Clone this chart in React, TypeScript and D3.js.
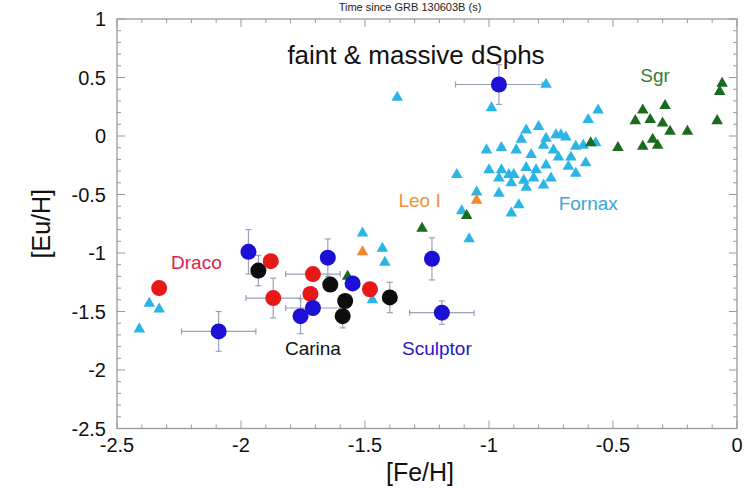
import React from 'react';
import * as d3 from 'd3';

// chart data
const xTicks = [-2.5, -2, -1.5, -1, -0.5, 0];
const yTicks = [1, 0.5, 0, -0.5, -1, -1.5, -2, -2.5];

// Fornax (light blue triangles)
const fornax: [number, number][] = [
  [-2.37, -1.43], [-2.33, -1.48], [-2.41, -1.65], [-1.51, -0.83], [-1.43, -0.96],
  [-1.42, -1.08], [-1.47, -1.4], [-1.11, -0.64], [-1.08, -0.88], [-1.37, 0.33],
  [-0.77, 0.44], [-0.99, 0.24], [-0.56, 0.22], [-0.6, 0.14], [-0.85, 0.05],
  [-0.8, 0.08], [-0.87, -0.03], [-0.77, -0.02], [-0.73, 0.01], [-0.71, 0.01],
  [-0.69, -0.01], [-1.01, -0.12], [-0.95, -0.1], [-0.89, -0.12], [-0.83, -0.16],
  [-0.78, -0.08], [-0.74, -0.12], [-0.72, -0.18], [-0.67, -0.18], [-0.65, -0.09],
  [-0.62, -0.08], [-0.57, -0.06], [-1.0, -0.29], [-0.95, -0.29], [-0.92, -0.33],
  [-0.9, -0.33], [-0.85, -0.27], [-0.81, -0.29], [-0.77, -0.25], [-0.68, -0.26],
  [-0.65, -0.32], [-0.61, -0.23], [-0.96, -0.36], [-0.91, -0.4], [-0.86, -0.38],
  [-0.82, -0.36], [-0.75, -0.36], [-0.78, -0.42], [-1.13, -0.33], [-1.05, -0.48],
  [-0.96, -0.49], [-0.85, -0.44], [-0.88, -0.59], [-0.91, -0.66],
];

// Sgr and other green triangles
const sgr: [number, number][] = [
  [-0.06, 0.45], [-0.07, 0.38], [-0.29, 0.26], [-0.38, 0.22], [-0.41, 0.13],
  [-0.35, 0.14], [-0.3, 0.11], [-0.27, 0.04], [-0.2, 0.04], [-0.08, 0.13],
  [-0.59, -0.06], [-0.48, -0.1], [-0.38, -0.09], [-0.34, -0.03], [-0.32, -0.08],
  [-1.09, -0.68], [-1.27, -0.79], [-1.57, -1.2],
];

// Leo I (orange triangles)
const leo: [number, number][] = [[-1.05, -0.55], [-1.51, -0.99]];

// circles: [Fe/H], [Eu/H], x error, y error
const draco: [number, number, number, number][] = [
  [-2.33, -1.3, 0, 0], [-1.88, -1.07, 0, 0], [-1.87, -1.385, 0.11, 0.17],
  [-1.71, -1.18, 0.11, 0], [-1.72, -1.35, 0, 0], [-1.48, -1.31, 0, 0],
];
const carina: [number, number, number, number][] = [
  [-1.93, -1.15, 0, 0.13], [-1.64, -1.27, 0, 0], [-1.58, -1.41, 0, 0],
  [-1.59, -1.54, 0, 0.1], [-1.4, -1.38, 0, 0.13],
];
const sculptor: [number, number, number, number][] = [
  [-1.97, -0.99, 0, 0.19], [-2.09, -1.67, 0.15, 0.17], [-1.65, -1.04, 0, 0.16],
  [-1.55, -1.26, 0, 0], [-1.71, -1.47, 0.11, 0], [-1.76, -1.54, 0, 0.15],
  [-1.23, -1.05, 0, 0.18], [-1.19, -1.51, 0.13, 0.1], [-0.96, 0.44, 0.175, 0.17],
];

const labels = [
  { text: 'Draco', x: -2.18, y: -1.14, color: '#e0204a' },
  { text: 'Carina', x: -1.71, y: -1.87, color: '#111' },
  { text: 'Sculptor', x: -1.21, y: -1.87, color: '#2418cc' },
  { text: 'Leo I', x: -1.28, y: -0.61, color: '#f0923c' },
  { text: 'Fornax', x: -0.6, y: -0.63, color: '#3aa6d6' },
  { text: 'Sgr', x: -0.33, y: 0.46, color: '#3d7a3a' },
];

const W = 750;
const H = 488;
const font = '"Liberation Sans", Arial, Helvetica, sans-serif';

const App = () => {
  const x = d3.scaleLinear().domain([-2.5, 0]).range([117, 737]);
  const y = d3.scaleLinear().domain([-2.5, 1]).range([428.5, 19]);
  const tri = d3.symbol().type(d3.symbolTriangle).size(58)() as string;

  const minorX = d3.range(-2.5, 0.001, 0.1);
  const minorY = d3.range(-2.5, 1.001, 0.1);

  const errColor = '#9aa0b8';
  const errBars = (pts: [number, number, number, number][]) =>
    pts.map((d, i) => (
      <g key={i} stroke={errColor} strokeWidth={1.2}>
        {d[2] > 0 && (
          <>
            <line x1={x(d[0] - d[2])} x2={x(d[0] + d[2])} y1={y(d[1])} y2={y(d[1])} />
            <line x1={x(d[0] - d[2])} x2={x(d[0] - d[2])} y1={y(d[1]) - 3} y2={y(d[1]) + 3} />
            <line x1={x(d[0] + d[2])} x2={x(d[0] + d[2])} y1={y(d[1]) - 3} y2={y(d[1]) + 3} />
          </>
        )}
        {d[3] > 0 && (
          <>
            <line x1={x(d[0])} x2={x(d[0])} y1={y(d[1] - d[3])} y2={y(d[1] + d[3])} />
            <line x1={x(d[0]) - 3} x2={x(d[0]) + 3} y1={y(d[1] - d[3])} y2={y(d[1] - d[3])} />
            <line x1={x(d[0]) - 3} x2={x(d[0]) + 3} y1={y(d[1] + d[3])} y2={y(d[1] + d[3])} />
          </>
        )}
      </g>
    ));

  const circles = (pts: [number, number, number, number][], fill: string) =>
    pts.map((d, i) => <circle key={i} cx={x(d[0])} cy={y(d[1])} r={8} fill={fill} />);

  const tris = (pts: [number, number][], fill: string) =>
    pts.map((d, i) => (
      <path key={i} d={tri} transform={`translate(${x(d[0])},${y(d[1])})`} fill={fill} />
    ));

  return (
    <svg
      width={W}
      height={H}
      style={{ position: 'absolute', left: 0, top: 0, background: '#fff', fontFamily: font }}
    >
      {/* caption of the panel above */}
      <text x={410} y={11} textAnchor="middle" fontSize={11} fill="#222">
        Time since GRB 130603B (s)
      </text>

      {/* frame */}
      <rect x={117} y={19} width={620} height={409.5} fill="none" stroke="#9a9a9a" strokeWidth={1.3} />

      {/* minor and major ticks on all sides */}
      <g stroke="#9a9a9a" strokeWidth={1}>
        {minorX.map((v, i) => {
          const major = Math.abs(v * 2 - Math.round(v * 2)) < 1e-6;
          const len = major ? 8 : 4;
          return (
            <g key={i}>
              <line x1={x(v)} x2={x(v)} y1={428.5} y2={428.5 - len} />
              <line x1={x(v)} x2={x(v)} y1={19} y2={19 + len} />
            </g>
          );
        })}
        {minorY.map((v, i) => {
          const major = Math.abs(v * 2 - Math.round(v * 2)) < 1e-6;
          const len = major ? 8 : 4;
          return (
            <g key={i}>
              <line x1={117} x2={117 + len} y1={y(v)} y2={y(v)} />
              <line x1={737} x2={737 - len} y1={y(v)} y2={y(v)} />
            </g>
          );
        })}
      </g>

      {/* tick labels */}
      {xTicks.map((v) => (
        <text key={v} x={x(v)} y={452} textAnchor="middle" fontSize={20} fill="#111">
          {v}
        </text>
      ))}
      {yTicks.map((v) => (
        <text key={v} x={106} y={y(v) + 7} textAnchor="end" fontSize={20} fill="#111">
          {v}
        </text>
      ))}

      {/* axis titles */}
      <text x={420} y={481} textAnchor="middle" fontSize={25} fill="#111">
        [Fe/H]
      </text>
      <text
        transform={`translate(50,${y(-0.75)}) rotate(-90)`}
        textAnchor="middle"
        fontSize={25}
        fill="#111"
      >
        [Eu/H]
      </text>

      <text x={416} y={64} textAnchor="middle" fontSize={26} fill="#111">
        faint &amp; massive dSphs
      </text>

      {/* error bars */}
      {errBars(draco)}
      {errBars(carina)}
      {errBars(sculptor)}

      {/* triangles */}
      {tris(fornax, '#2bb5e6')}
      {tris(sgr, '#1b6b1f')}
      {tris(leo, '#f2872c')}

      {/* circles */}
      {circles(draco, '#e81818')}
      {circles(sculptor, '#1c10d6')}
      {circles(carina, '#0d0d0d')}

      {labels.map((l) => (
        <text key={l.text} x={x(l.x)} y={y(l.y)} textAnchor="middle" fontSize={19} fill={l.color}>
          {l.text}
        </text>
      ))}
    </svg>
  );
};

export default App;
